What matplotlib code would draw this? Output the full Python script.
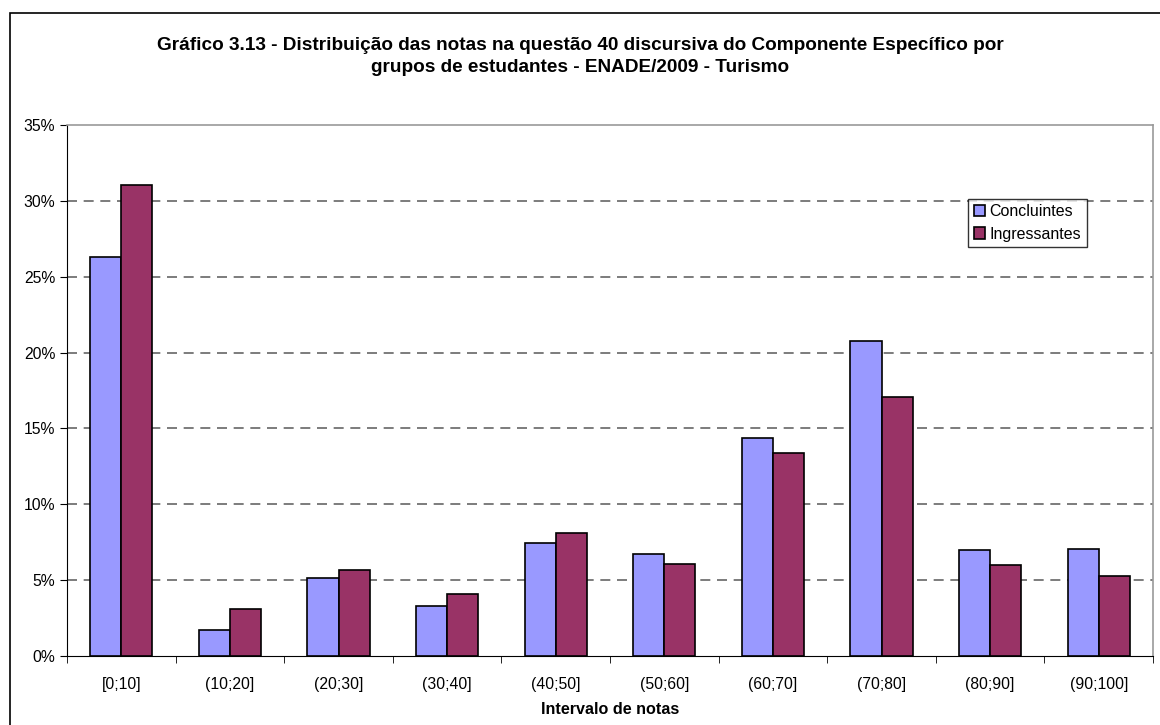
import numpy as np
import matplotlib.pyplot as plt
from matplotlib.patches import Rectangle

intervalos = ["[0;10]", "(10;20]", "(20;30]", "(30;40]", "(40;50]",
              "(50;60]", "(60;70]", "(70;80]", "(80;90]", "(90;100]"]
concluintes = [26.27, 1.74, 5.15, 3.32, 7.43, 6.75, 14.35, 20.74, 7.01, 7.08]
ingressantes = [31.02, 3.10, 5.67, 4.09, 8.14, 6.04, 13.36, 17.10, 6.00, 5.29]
yticks = [0, 5, 10, 15, 20, 25, 30, 35]


def main():
    plt.rcParams['font.family'] = ['Liberation Sans', 'DejaVu Sans']
    fig = plt.figure(figsize=(11.6, 7.25), dpi=100)
    fig.patches.append(Rectangle((10 / 1160, -0.1), 1.2, (725 - 13) / 725 + 0.1,
                                 transform=fig.transFigure, fill=False,
                                 edgecolor="black", linewidth=1.2))
    ax = fig.add_axes([67 / 1160, 69 / 725, 1086 / 1160, 531 / 725])

    x = np.arange(len(intervalos))
    w = 0.286
    ax.bar(x - w / 2, concluintes, w, color="#9999FF", edgecolor="black",
           linewidth=1.2, label="Concluintes", zorder=3)
    ax.bar(x + w / 2, ingressantes, w, color="#993366", edgecolor="black",
           linewidth=1.2, label="Ingressantes", zorder=3)

    ax.set_xlim(-0.5, len(intervalos) - 0.5)
    ax.set_ylim(0, 35)
    ax.set_yticks(yticks)
    ax.set_yticklabels([f"{v}%" for v in yticks], fontsize=11.3)
    ax.set_xticks(x)
    ax.set_xticklabels(intervalos, fontsize=11.3)
    ax.tick_params(axis="x", length=0, pad=15)
    ax.set_xticks(np.arange(-0.5, len(intervalos)), minor=True)
    ax.tick_params(axis="x", which="minor", length=5, direction="out")
    ax.tick_params(axis="y", length=5, direction="out")

    for v in yticks[1:-1]:
        ax.axhline(v, color="#666666", linestyle=(0, (6, 4)), linewidth=1.2, zorder=1)
    for s in ["top", "right"]:
        ax.spines[s].set_color("#999999")
        ax.spines[s].set_linewidth(1.2)

    ax.set_xlabel("Intervalo de notas", fontsize=11.6, fontweight="bold")
    ax.xaxis.set_label_coords(0.5, -(709 - 656) / 531)
    ax.xaxis.label.set_va("center")

    fig.text(0.5, 1 - 46 / 725,
             "Gráfico 3.13 - Distribuição das notas na questão 40 discursiva do Componente Específico por",
             ha="center", va="center", fontsize=13.7, fontweight="bold")
    fig.text(0.5, 1 - 68 / 725,
             "grupos de estudantes - ENADE/2009 - Turismo",
             ha="center", va="center", fontsize=13.7, fontweight="bold")

    leg = ax.legend(loc="upper right", bbox_to_anchor=(0.939, 0.861), fontsize=11.5,
                    frameon=True, fancybox=False, edgecolor="black",
                    handlelength=0.7, handleheight=0.7, handletextpad=0.3,
                    borderpad=0.35, labelspacing=0.45, borderaxespad=0)
    leg.get_frame().set_linewidth(1.0)

    fig.savefig("out.png", dpi=100)


if __name__ == "__main__":
    main()
